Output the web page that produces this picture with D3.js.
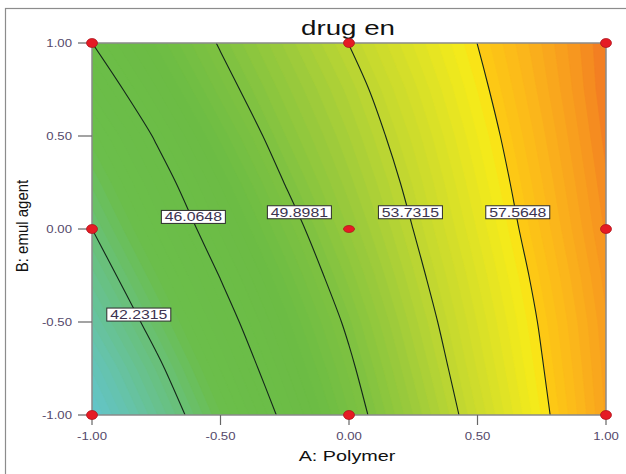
<!DOCTYPE html>
<html>
<head>
<meta charset="utf-8">
<script src="https://cdn.jsdelivr.net/npm/d3@7"></script>
<style>
  body { margin: 0; background: #fff; }
  svg { display: block; font-family: "Liberation Sans", Arial, sans-serif; }
</style>
</head>
<body>
<script>
// coded factor levels of the prediction grid
const factorA = [-1, -0.75, -0.5, -0.25, 0, 0.25, 0.5, 0.75, 1];
const factorB = [1, 0.75, 0.5, 0.25, 0, -0.25, -0.5, -0.75, -1];

// drug en, one row per B level (top row = B 1.00)
const response = [
  [46.06, 48.05, 50.03, 51.90, 53.76, 55.67, 57.58, 59.49, 61.40],
  [45.03, 47.17, 49.32, 51.26, 53.11, 55.11, 57.19, 59.26, 61.34],
  [43.95, 46.21, 48.48, 50.63, 52.57, 54.61, 56.79, 58.97, 61.16],
  [43.08, 45.37, 47.65, 49.93, 52.04, 54.16, 56.42, 58.68, 60.94],
  [42.23, 44.60, 46.92, 49.18, 51.46, 53.74, 56.06, 58.39, 60.71],
  [41.31, 43.73, 46.13, 48.46, 50.83, 53.27, 55.66, 58.04, 60.42],
  [40.33, 42.84, 45.36, 47.77, 50.18, 52.78, 55.28, 57.73, 60.18],
  [39.23, 41.89, 44.55, 47.14, 49.62, 52.30, 54.92, 57.48, 60.04],
  [38.31, 41.02, 43.72, 46.42, 49.10, 51.81, 54.51, 57.21, 59.92]
];

const contourLevels = [42.2315, 46.0648, 49.8981, 53.7315, 57.5648];

// design points (3x3 factorial)
const designA = [-1, -1, -1, 0, 0, 0, 1, 1, 1];
const designB = [-1, 0, 1, -1, 0, 1, -1, 0, 1];

const tickValues = [-1, -0.5, 0, 0.5, 1];
const chartTitle = "drug en";
const xTitle = "A: Polymer";
const yTitle = "B: emul agent";

//* palette (value -> colour), Design-Expert style
const paletteStops = [38.3, 40.0, 42.0, 43.8, 48.0, 50.0, 52.0, 54.0, 56.0, 57.3, 57.6, 59.0, 60.5, 61.5];
const paletteColors = ["#62c4cc", "#66c3ab", "#69c07c", "#6bbe4b", "#6cbc44", "#7fc241", "#9ecb3b",
  "#c3d830", "#e3e424", "#f8ec18", "#fdcb14", "#fbb41b", "#f7961f", "#f27623"];

const width = 626;
const height = 474;
const plot = { left: 92, right: 606, top: 43, bottom: 415 };
const SX = 1.32; // the figure is stretched sideways, so is its text

const svg = d3.select("body").append("svg")
  .attr("width", width)
  .attr("height", height);

// outer frame (runs off the right / bottom edge)
svg.append("rect")
  .attr("x", 5.5).attr("y", 8.5)
  .attr("width", 700).attr("height", 600)
  .attr("fill", "none")
  .attr("stroke", "#8c8c8c")
  .attr("stroke-width", 1.2);

const x = d3.scaleLinear().domain([-1, 1]).range([plot.left, plot.right]);
const y = d3.scaleLinear().domain([-1, 1]).range([plot.bottom, plot.top]);

const nx = factorA.length;
const ny = factorB.length;
// d3.contours puts value i at grid coordinate i + 0.5
const gx = d3.scaleLinear().domain([0.5, nx - 0.5]).range([x(factorA[0]), x(factorA[nx - 1])]);
const gy = d3.scaleLinear().domain([0.5, ny - 0.5]).range([y(factorB[0]), y(factorB[ny - 1])]);

const values = response.flat();
const color = d3.scaleLinear().domain(paletteStops).range(paletteColors).clamp(true);

const gridPath = d3.geoPath(d3.geoTransform({
  point(px, py) { this.stream.point(gx(px), gy(py)); }
}));

svg.append("clipPath").attr("id", "plotClip")
  .append("rect")
  .attr("x", plot.left).attr("y", plot.top)
  .attr("width", plot.right - plot.left)
  .attr("height", plot.bottom - plot.top);

const plotG = svg.append("g").attr("clip-path", "url(#plotClip)");

//* colour bands, boundaries lined up with the labelled contours
const step = (contourLevels[1] - contourLevels[0]) / 10;
const vmin = d3.min(values), vmax = d3.max(values);
const start = contourLevels[0] - step * Math.ceil((contourLevels[0] - vmin) / step + 0.001);
const bandThresholds = d3.range(0, Math.ceil((vmax - start) / step) + 1).map(k => start + k * step);

plotG.selectAll(".band")
  .data(d3.contours().size([nx, ny]).thresholds(bandThresholds)(values))
  .join("path")
  .attr("class", "band")
  .attr("d", gridPath)
  .attr("fill", d => color(d.value + step / 2))
  .attr("stroke", d => color(d.value + step / 2))
  .attr("stroke-width", 0.6);

//* contour lines: keep only the iso part of each ring
const inside = p => p[0] >= 0.5 - 1e-9 && p[0] <= nx - 0.5 + 1e-9 &&
  p[1] >= 0.5 - 1e-9 && p[1] <= ny - 0.5 + 1e-9;

function isoRuns(ring) {
  let pts = ring.slice();
  const a = pts[0], b = pts[pts.length - 1];
  if (a[0] === b[0] && a[1] === b[1]) pts.pop();
  const k = pts.findIndex(p => !inside(p));
  if (k < 0) return [pts.concat([pts[0]])];
  pts = pts.slice(k).concat(pts.slice(0, k));
  const runs = [];
  let cur = [];
  pts.forEach(p => {
    if (inside(p)) cur.push(p);
    else { if (cur.length > 1) runs.push(cur); cur = []; }
  });
  if (cur.length > 1) runs.push(cur);
  return runs.map(r => r.map(p => [gx(p[0]), gy(p[1])]));
}

const isoLine = d3.line().curve(d3.curveCatmullRom.alpha(0.5));
const iso = d3.contours().size([nx, ny]).thresholds(contourLevels)(values);

const lineRuns = iso.map(c => ({
  value: c.value,
  runs: c.coordinates.flatMap(poly => poly.flatMap(isoRuns))
}));

lineRuns.forEach(l => {
  plotG.selectAll(null)
    .data(l.runs)
    .join("path")
    .attr("d", isoLine)
    .attr("fill", "none")
    .attr("stroke", "#13261b")
    .attr("stroke-width", 1.1);
});

// plot border
svg.append("rect")
  .attr("x", plot.left).attr("y", plot.top)
  .attr("width", plot.right - plot.left)
  .attr("height", plot.bottom - plot.top)
  .attr("fill", "none")
  .attr("stroke", "#8a8a8a")
  .attr("stroke-width", 1.5);

//* axes
const fmt = d => d.toFixed(2); // plain hyphen minus, as in the original
const tickColor = "#55496b";

svg.selectAll(".xtick")
  .data(tickValues)
  .join("line")
  .attr("class", "xtick")
  .attr("x1", d => x(d)).attr("x2", d => x(d))
  .attr("y1", plot.bottom).attr("y2", plot.bottom + 10)
  .attr("stroke", "#666").attr("stroke-width", 1.2);

svg.selectAll(".ytick")
  .data(tickValues)
  .join("line")
  .attr("class", "ytick")
  .attr("x1", plot.left - 14).attr("x2", plot.left)
  .attr("y1", d => y(d)).attr("y2", d => y(d))
  .attr("stroke", "#666").attr("stroke-width", 1.2);

svg.selectAll(".xlab")
  .data(tickValues)
  .join("text")
  .attr("class", "xlab")
  .attr("transform", d => `translate(${x(d)},440) scale(${SX},1)`)
  .attr("text-anchor", "middle")
  .attr("font-size", 10)
  .attr("fill", tickColor)
  .text(d => fmt(d));

svg.selectAll(".ylab")
  .data(tickValues)
  .join("text")
  .attr("class", "ylab")
  .attr("transform", d => `translate(72,${y(d) + 3.5}) scale(${SX},1)`)
  .attr("text-anchor", "end")
  .attr("font-size", 10)
  .attr("fill", tickColor)
  .text(d => fmt(d));

svg.append("text")
  .attr("transform", `translate(348,35) scale(${SX},1)`)
  .attr("text-anchor", "middle")
  .attr("font-size", 21)
  .attr("fill", "#111")
  .text(chartTitle);

svg.append("text")
  .attr("transform", `translate(347,461) scale(${SX},1)`)
  .attr("text-anchor", "middle")
  .attr("font-size", 15)
  .attr("fill", "#111")
  .text(xTitle);

svg.append("text")
  .attr("transform", `translate(28,226) scale(1.08,1) rotate(-90)`)
  .attr("text-anchor", "middle")
  .attr("font-size", 15)
  .attr("fill", "#111")
  .text(yTitle);

//* contour labels, placed where each line crosses a chosen B level
const labelB = [-0.46, 0.065, 0.09, 0.09, 0.09];

function crossAt(runs, py) {
  for (const r of runs) {
    for (let i = 1; i < r.length; i++) {
      const [x0, y0] = r[i - 1], [x1, y1] = r[i];
      if ((y0 - py) * (y1 - py) <= 0 && y0 !== y1) {
        return x0 + (x1 - x0) * (py - y0) / (y1 - y0);
      }
    }
  }
  return null;
}

const labels = lineRuns.map((l, i) => {
  const py = y(labelB[i]);
  return { value: l.value, px: crossAt(l.runs, py) + 2, py };
});

const labelG = svg.selectAll(".clabel")
  .data(labels)
  .join("g")
  .attr("class", "clabel")
  .attr("transform", d => `translate(${d.px},${d.py})`);

labelG.append("rect")
  .attr("x", -32).attr("y", -6.5)
  .attr("width", 64).attr("height", 13)
  .attr("fill", "#fff")
  .attr("stroke", "#2b2b2b")
  .attr("stroke-width", 1);

labelG.append("text")
  .attr("transform", `translate(0,4.3) scale(${SX},1)`)
  .attr("text-anchor", "middle")
  .attr("font-size", 12)
  .attr("fill", "#3b3350")
  .text(d => d.value.toFixed(4));

//* design points
svg.selectAll(".dpt")
  .data(designA.map((a, i) => ({ a, b: designB[i] })))
  .join("ellipse")
  .attr("class", "dpt")
  .attr("cx", d => x(d.a))
  .attr("cy", d => y(d.b))
  .attr("rx", 5.5)
  .attr("ry", d => (d.a === 0 && d.b === 0) ? 3.5 : 4.5)
  .attr("fill", "#e51b24")
  .attr("stroke", "#a8111a")
  .attr("stroke-width", 0.7);
</script>
</body>
</html>
